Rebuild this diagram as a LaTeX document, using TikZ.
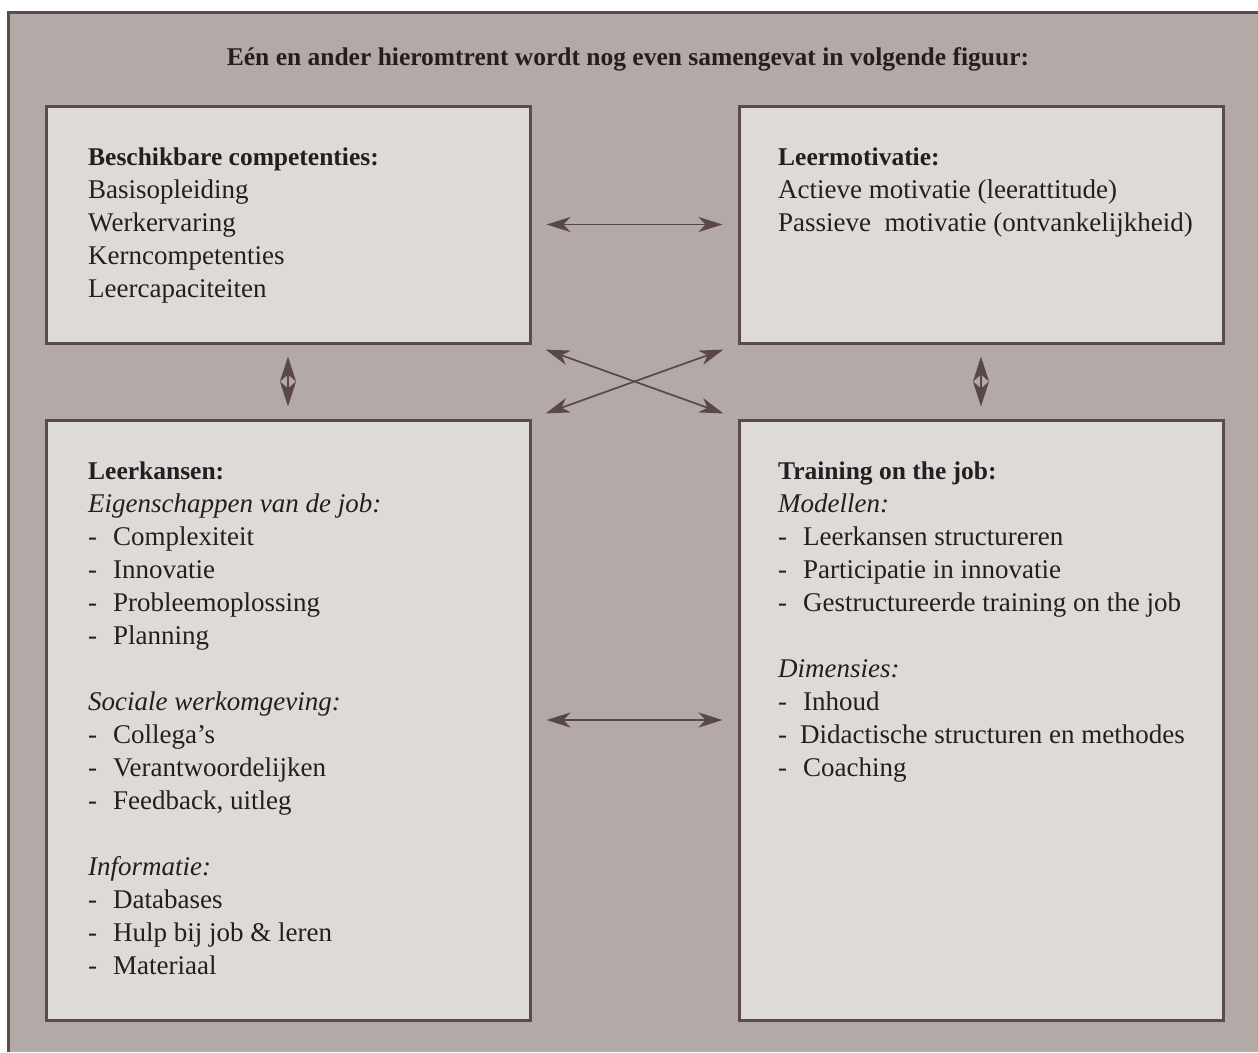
\documentclass[tikz,border=0pt]{standalone}
\usepackage{fontspec}
\setmainfont{Liberation Serif}
\usepackage{tikz}
\usetikzlibrary{arrows.meta,positioning}

\definecolor{pagebg}{HTML}{B3A9A7}
\definecolor{boxfill}{HTML}{DEDAD8}
\definecolor{boxline}{HTML}{5B4B4B}
\definecolor{arrowcol}{HTML}{5A4848}
\definecolor{inkcol}{HTML}{231F20}

\newcommand{\dashitem}[1]{\makebox[25pt][l]{-}#1}
\newcommand{\boxhead}[1]{{\fontsize{25.5}{33}\selectfont\bfseries #1}}

\begin{document}
\begin{tikzpicture}[
  x=1pt, y=-1pt,
  box/.style={draw=boxline, line width=3pt, fill=boxfill, inner sep=0pt, minimum width=484pt},
  txt/.style={anchor=north west, inner sep=0pt, align=left, text=inkcol, font=\fontsize{27}{33}\selectfont},
  arr/.style={{Stealth[length=24pt,width=15pt,inset=7pt]}-{Stealth[length=24pt,width=15pt,inset=7pt]}, line width=1.7pt, draw=arrowcol},
  varr/.style={{Stealth[length=25pt,width=16pt,inset=7pt]}-{Stealth[length=25pt,width=16pt,inset=7pt]}, line width=1.7pt, draw=arrowcol}
]
\useasboundingbox (0,0) rectangle (1258,1052);
\fill[white] (0,0) rectangle (1258,1052);
\fill[pagebg] (8,12) rectangle (1258,1052);
\draw[boxline, line width=3pt] (8,1052) -- (8,12) -- (1258,12);

\node[font=\bfseries\fontsize{25.5}{30}\selectfont, text=inkcol] (title) at (628,59)
  {Eén en ander hieromtrent wordt nog even samengevat in volgende figuur:};

% the four boxes
\node[box, minimum height=237pt] (comp) at (288,224.5) {};
\node[box, minimum height=237pt] (motiv) at (981,224.5) {};
\node[box, minimum height=600pt] (kansen) at (288,720) {};
\node[box, minimum height=600pt] (otj) at (981,720) {};

\node[txt] (comptxt) at (88,148) {\boxhead{Beschikbare competenties:}\\
  Basisopleiding\\
  Werkervaring\\
  Kerncompetenties\\
  Leercapaciteiten};

\node[txt] (motivtxt) at (778,148) {\boxhead{Leermotivatie:}\\
  Actieve motivatie (leerattitude)\\
  Passieve\ \ motivatie (ontvankelijkheid)};

\node[txt] (kansentxt) at (88,462) {\boxhead{Leerkansen:}\\
  \textit{Eigenschappen van de job:}\\
  \dashitem{Complexiteit}\\
  \dashitem{Innovatie}\\
  \dashitem{Probleemoplossing}\\
  \dashitem{Planning}\\[33pt]
  \textit{Sociale werkomgeving:}\\
  \dashitem{Collega’s}\\
  \dashitem{Verantwoordelijken}\\
  \dashitem{Feedback, uitleg}\\[33pt]
  \textit{Informatie:}\\
  \dashitem{Databases}\\
  \dashitem{Hulp bij job \& leren}\\
  \dashitem{Materiaal}};

\node[txt] (otjtxt) at (778,462) {\boxhead{Training on the job:}\\
  \textit{Modellen:}\\
  \dashitem{Leerkansen structureren}\\
  \dashitem{Participatie in innovatie}\\
  \dashitem{Gestructureerde training on the job}\\[33pt]
  \textit{Dimensies:}\\
  \dashitem{Inhoud}\\
  \makebox[22pt][l]{-}Didactische structuren en methodes\\
  \dashitem{Coaching}};

% connectors
\draw[arr, shorten <=15pt, shorten >=15pt] (comp) -- (motiv);
\draw[arr, shorten <=15pt, shorten >=15pt] (kansen) -- (otj);
\draw[arr, shorten <=15pt, shorten >=15pt] (comp.south east) -- (otj.north west);
\draw[arr, shorten <=15pt, shorten >=15pt] (motiv.south west) -- (kansen.north east);
\draw[varr, shorten <=12pt, shorten >=12pt] (comp) -- (kansen);
\draw[varr, shorten <=12pt, shorten >=12pt] (motiv) -- (otj);
\end{tikzpicture}
\end{document}
